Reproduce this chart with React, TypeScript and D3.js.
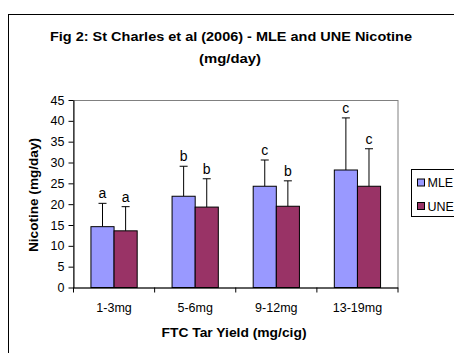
import * as d3 from "d3";
import React, { useEffect, useRef } from "react";

const categories = ["1-3mg", "5-6mg", "9-12mg", "13-19mg"];
const seriesNames = ["MLE", "UNE"];
const mleValues = [14.6, 21.9, 24.3, 28.2];
const uneValues = [13.6, 19.3, 19.5, 24.3];
const mleErrors = [5.6, 7.2, 6.3, 12.5];
const uneErrors = [5.8, 6.8, 6.1, 9.0];
const mleLetters = ["a", "b", "c", "c"];
const uneLetters = ["a", "b", "b", "c"];
const yTicks = [0, 5, 10, 15, 20, 25, 30, 35, 40, 45];
const colors = ["#9999FF", "#993366"];

const FONT = "'Liberation Sans', Arial, sans-serif";

function Chart() {
  const ref = useRef<SVGSVGElement | null>(null);

  useEffect(() => {
    const svg = d3.select(ref.current);
    svg.selectAll("*").remove();

    const W = 454, H = 353;
    const margin = { left: 73.5, top: 100, right: 454 - 398, bottom: 353 - 287.5 };
    const width = W - margin.left - margin.right;
    const height = H - margin.top - margin.bottom;

    // outer chart border (runs off the right and bottom)
    svg.append("rect")
      .attr("x", 8.5).attr("y", 14.5)
      .attr("width", 600).attr("height", 500)
      .attr("fill", "white").attr("stroke", "black");

    const title = svg.append("text")
      .attr("text-anchor", "middle")
      .attr("font-family", FONT)
      .attr("font-size", "13.5px")
      .attr("font-weight", "bold");
    title.append("tspan").attr("x", 231).attr("y", 41)
      .attr("textLength", 362).attr("lengthAdjust", "spacingAndGlyphs")
      .text("Fig 2: St Charles et al (2006) - MLE and UNE Nicotine");
    title.append("tspan").attr("x", 230).attr("y", 63)
      .attr("textLength", 62).attr("lengthAdjust", "spacingAndGlyphs")
      .text("(mg/day)");

    const data = categories.map((c, i) => ({
      category: c,
      values: [mleValues[i], uneValues[i]],
      errors: [mleErrors[i], uneErrors[i]],
      letters: [mleLetters[i], uneLetters[i]],
    }));

    const x = d3.scaleBand().domain(categories).range([0, width]).paddingInner(0.43).paddingOuter(0.215);
    const x1 = d3.scaleBand().domain(seriesNames).range([0, x.bandwidth()]);
    const y = d3.scaleLinear().domain([0, 45]).range([height, 0]);
    const xb = d3.scaleBand().domain(categories).range([0, width]);

    const chart = svg.append("g")
      .attr("transform", "translate(" + margin.left + "," + margin.top + ")");

    // plot area frame (grey)
    chart.append("rect")
      .attr("x", 0).attr("y", 0.5)
      .attr("width", width).attr("height", height)
      .attr("fill", "white").attr("stroke", "#808080");

    const groups = chart.selectAll("g.cat")
      .data(data)
      .enter()
      .append("g")
      .attr("class", "cat")
      .attr("transform", (d) => "translate(" + x(d.category) + ",0)");

    groups.each(function (d) {
      const g = d3.select(this);
      seriesNames.forEach((s, j) => {
        const bx = x1(s)!;
        const bw = x1.bandwidth();
        const cx = bx + bw / 2;
        const top = y(d.values[j] + d.errors[j]);
        g.append("line")
          .attr("x1", cx).attr("x2", cx)
          .attr("y1", y(d.values[j])).attr("y2", top)
          .attr("stroke", "black");
        g.append("line")
          .attr("x1", cx - 4).attr("x2", cx + 4)
          .attr("y1", top).attr("y2", top)
          .attr("stroke", "black");
        g.append("rect")
          .attr("x", bx).attr("y", y(d.values[j]))
          .attr("width", bw).attr("height", height - y(d.values[j]))
          .attr("fill", colors[j])
          .attr("stroke", "black");
        g.append("text")
          .attr("x", cx).attr("y", top - 5)
          .attr("text-anchor", "middle")
          .attr("font-family", FONT)
          .attr("font-size", "14px")
          .text(d.letters[j]);
      });
    });

    // y axis
    const yAxis = chart.append("g")
      .attr("font-family", FONT)
      .call(d3.axisLeft(y).tickValues(yTicks).tickSize(5).tickSizeOuter(0));
    yAxis.select(".domain").attr("stroke", "black");
    yAxis.selectAll("text").attr("font-size", "12.5px").attr("fill", "black").attr("dx", "-1");

    // x axis: ticks at category boundaries
    const xAxis = chart.append("g").attr("transform", "translate(0," + height + ")");
    xAxis.append("line").attr("x1", 0).attr("x2", width).attr("y1", 0.5).attr("y2", 0.5).attr("stroke", "black");
    xAxis.selectAll("line.tk")
      .data([0, ...categories.map((c) => xb(c)! + xb.bandwidth())])
      .enter()
      .append("line")
      .attr("class", "tk")
      .attr("x1", (d) => d).attr("x2", (d) => d)
      .attr("y1", 0).attr("y2", 5)
      .attr("stroke", "black");
    xAxis.selectAll("text")
      .data(categories)
      .enter()
      .append("text")
      .attr("x", (d) => xb(d)! + xb.bandwidth() / 2)
      .attr("y", 24.5)
      .attr("text-anchor", "middle")
      .attr("font-family", FONT)
      .attr("font-size", "12.5px")
      .text((d) => d);

    svg.append("text")
      .attr("x", 234).attr("y", 337)
      .attr("text-anchor", "middle")
      .attr("font-family", FONT)
      .attr("font-size", "13px")
      .attr("font-weight", "bold")
      .attr("textLength", 145).attr("lengthAdjust", "spacingAndGlyphs")
      .text("FTC Tar Yield (mg/cig)");

    svg.append("text")
      .attr("transform", "translate(38,195) rotate(-90)")
      .attr("text-anchor", "middle")
      .attr("font-family", FONT)
      .attr("font-size", "13px")
      .attr("font-weight", "bold")
      .attr("textLength", 114).attr("lengthAdjust", "spacingAndGlyphs")
      .text("Nicotine (mg/day)");

    // legend
    const legend = svg.append("g");
    legend.append("rect")
      .attr("x", 411.5).attr("y", 169.5)
      .attr("width", 60).attr("height", 47)
      .attr("fill", "white").attr("stroke", "black");
    seriesNames.forEach((s, j) => {
      const cy = 182.5 + j * 23.5;
      legend.append("rect")
        .attr("x", 417.5).attr("y", cy - 3.5)
        .attr("width", 7).attr("height", 7)
        .attr("fill", colors[j]).attr("stroke", "black");
      legend.append("text")
        .attr("x", 427.5).attr("y", cy + 4.5)
        .attr("font-family", FONT)
        .attr("font-size", "12.5px")
        .text(s);
    });
  }, []);

  return (
    <svg
      ref={ref}
      width={454}
      height={353}
      style={{ position: "absolute", left: 0, top: 0, background: "white" }}
    />
  );
}

export default function App() {
  return <Chart />;
}
